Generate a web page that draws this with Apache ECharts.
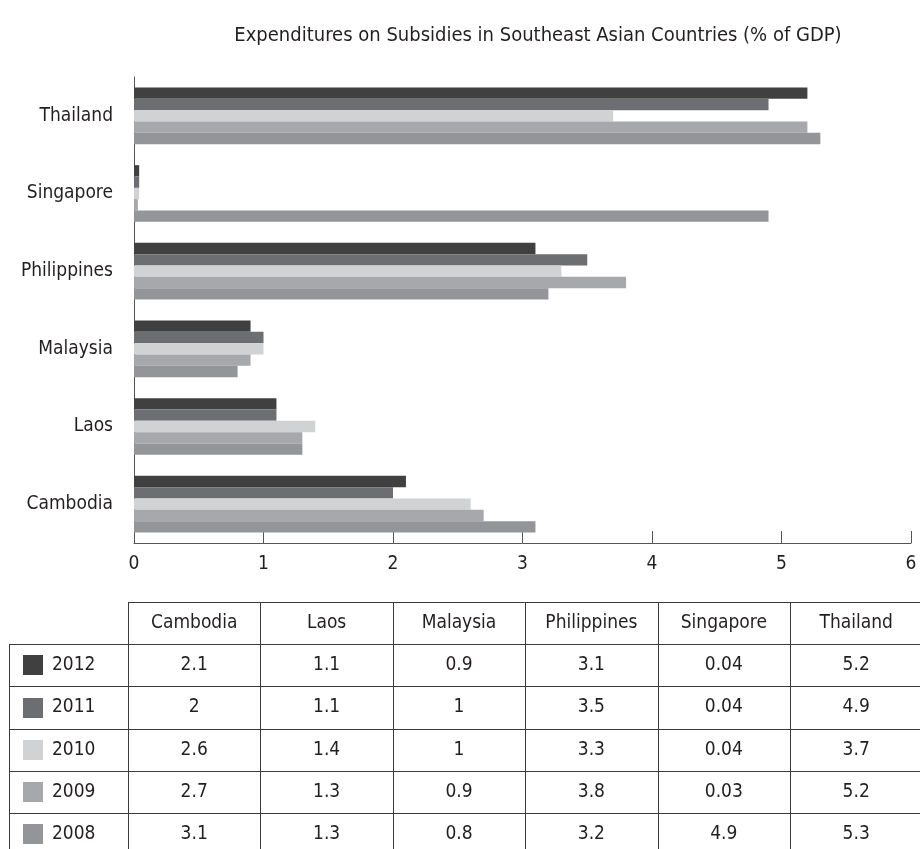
<!DOCTYPE html>
<html>
<head>
<meta charset="utf-8">
<script src="https://cdn.jsdelivr.net/npm/echarts@6/dist/echarts.min.js"></script>
<style>
html,body{margin:0;padding:0;background:#fff;}
#chart{width:920px;height:849px;}
</style>
</head>
<body>
<div id="chart"></div>
<script>
// ---- data ----
const countries = ['Cambodia', 'Laos', 'Malaysia', 'Philippines', 'Singapore', 'Thailand'];
const years = ['2012', '2011', '2010', '2009', '2008'];
const v2012 = [2.1, 1.1, 0.9, 3.1, 0.04, 5.2];
const v2011 = [2, 1.1, 1, 3.5, 0.04, 4.9];
const v2010 = [2.6, 1.4, 1, 3.3, 0.04, 3.7];
const v2009 = [2.7, 1.3, 0.9, 3.8, 0.03, 5.2];
const v2008 = [3.1, 1.3, 0.8, 3.2, 4.9, 5.3];
const xTicks = [0, 1, 2, 3, 4, 5, 6];
const titleText = 'Expenditures on Subsidies in Southeast Asian Countries (% of GDP)';

// ---- styles ----
const seriesValues = [v2012, v2011, v2010, v2009, v2008];
const colors = ['#404040', '#6d6e71', '#d1d2d4', '#a7a8ab', '#939598'];
const FONT = "'Liberation Sans Narrow', 'DejaVu Sans Condensed', 'Arial Narrow', sans-serif";
const TXT = '#231f20';
const LINE = '#3a3a3a';
const FS = 19;

const chart = echarts.init(document.getElementById('chart'), null, {renderer: 'canvas'});

// table layout
const tTop = 602, rowH = 42.2, tLeft = 9, colStart = 128, colW = 132.4;
const nCols = countries.length;
const tRight = colStart + colW * nCols;
const tBottom = tTop + rowH * (years.length + 1);
const g = [];
function px(v) { return Math.round(v) + 0.5; }
function hline(x1, x2, y) {
  g.push({type: 'line', silent: true, shape: {x1: x1, y1: px(y), x2: x2, y2: px(y)}, style: {stroke: LINE, lineWidth: 1}});
}
function vline(x, y1, y2) {
  g.push({type: 'line', silent: true, shape: {x1: px(x), y1: y1, x2: px(x), y2: y2}, style: {stroke: LINE, lineWidth: 1}});
}
function txt(x, y, s, align) {
  g.push({type: 'text', silent: true, x: x, y: y, style: {text: s, fill: TXT, font: FS + 'px ' + FONT, align: align, verticalAlign: 'middle'}});
}
// header top
hline(colStart, tRight, tTop);
for (let r = 1; r <= years.length + 1; r++) hline(tLeft, tRight, tTop + rowH * r);
vline(tLeft, tTop + rowH, tBottom);
for (let c = 0; c <= nCols; c++) vline(colStart + colW * c, tTop, tBottom);
countries.forEach((name, c) => txt(colStart + colW * (c + 0.5), tTop + rowH / 2, name, 'center'));
years.forEach((yr, r) => {
  const cy = tTop + rowH * (r + 1.5);
  g.push({type: 'rect', silent: true, shape: {x: 23, y: Math.round(cy - 10), width: 20, height: 20}, style: {fill: colors[r]}});
  txt(52, cy, yr, 'left');
  seriesValues[r].forEach((v, c) => txt(colStart + colW * (c + 0.5), cy, String(v), 'center'));
});

const option = {
  animation: false,
  backgroundColor: '#fff',
  textStyle: {fontFamily: FONT},
  title: {
    text: titleText,
    left: 533, top: 21, textAlign: 'center',
    textStyle: {fontFamily: FONT, fontSize: 20, fontWeight: 'normal', color: TXT}
  },
  grid: {left: 134, right: 9, top: 77, height: 466, containLabel: false},
  xAxis: {
    type: 'value', min: xTicks[0], max: xTicks[xTicks.length - 1], interval: 1,
    axisLine: {show: true, lineStyle: {color: '#555', width: 1}},
    axisTick: {show: true, inside: true, length: 12, lineStyle: {color: '#555'}},
    axisLabel: {color: TXT, fontSize: FS, fontFamily: FONT, margin: 12},
    splitLine: {show: false}
  },
  yAxis: {
    type: 'category', data: countries,
    axisLine: {show: true, lineStyle: {color: '#555', width: 1}},
    axisTick: {show: false},
    axisLabel: {color: TXT, fontSize: FS, fontFamily: FONT, margin: 21}
  },
  series: years.map((yr, i) => ({
    name: yr, type: 'bar', data: seriesValues[i],
    itemStyle: {color: colors[i]},
    barGap: '0%', barCategoryGap: '27%'
  })),
  graphic: g
};
chart.setOption(option);
</script>
</body>
</html>
